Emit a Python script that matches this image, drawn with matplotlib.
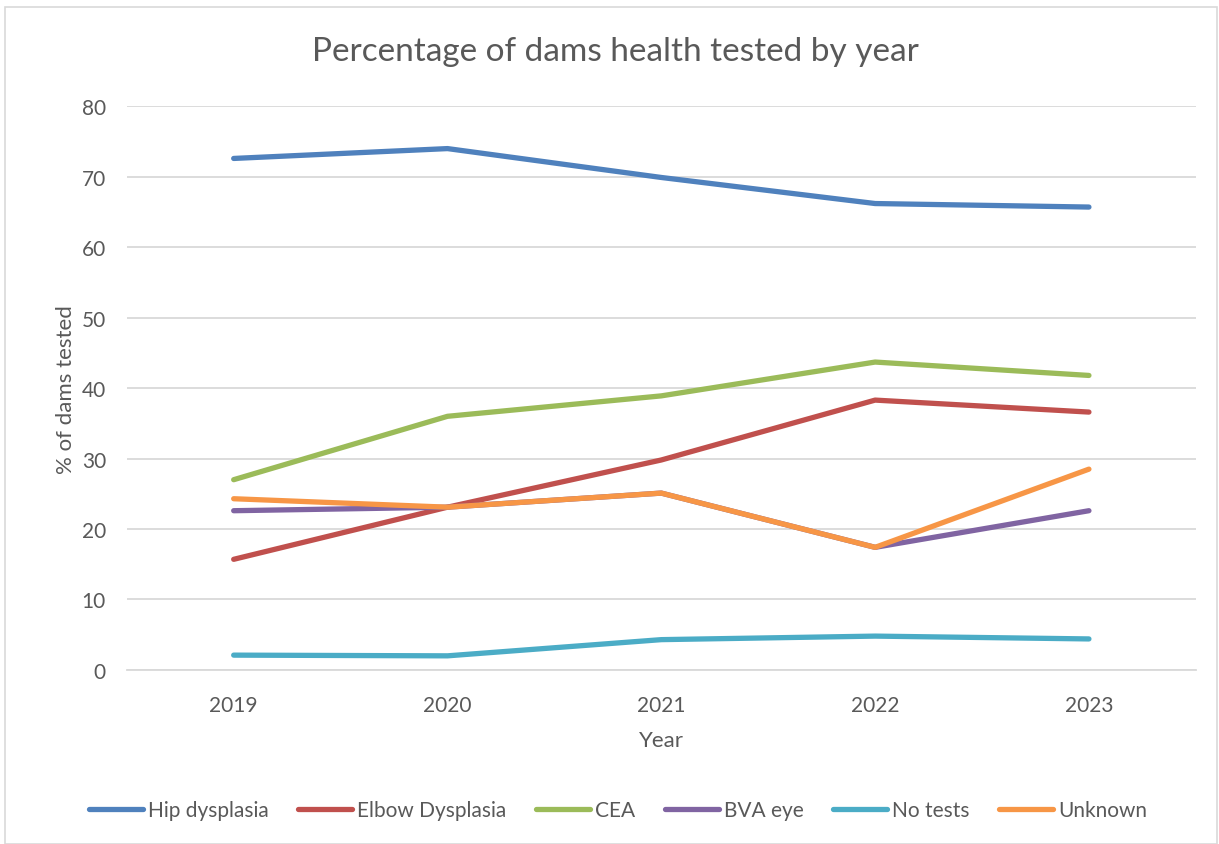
import matplotlib.pyplot as plt
from matplotlib.patches import Rectangle

plt.rcParams['font.family'] = ['Lato', 'DejaVu Sans']

years = ['2019', '2020', '2021', '2022', '2023']
hip = [72.6, 74.0, 69.9, 66.2, 65.7]
elbow = [15.7, 23.1, 29.8, 38.3, 36.6]
cea = [27.0, 36.0, 38.9, 43.7, 41.8]
bva = [22.6, 23.1, 25.1, 17.4, 22.6]
no_tests = [2.1, 2.0, 4.3, 4.8, 4.4]
unknown = [24.3, 23.1, 25.1, 17.4, 28.5]

series = [
    ('Hip dysplasia', hip, '#4F81BD'),
    ('Elbow Dysplasia', elbow, '#C0504D'),
    ('CEA', cea, '#9BBB59'),
    ('BVA eye', bva, '#8064A2'),
    ('No tests', no_tests, '#4BACC6'),
    ('Unknown', unknown, '#F79646'),
]

fig = plt.figure(figsize=(12.19, 8.45), dpi=100)
ax = fig.add_axes([0.104, 0.206, 0.877, 0.667])

x = range(len(years))
for name, vals, col in series:
    ax.plot(x, vals, color=col, lw=3.8, solid_capstyle='round', label=name)

ax.set_xlim(-0.5, len(years) - 0.5)
ax.set_ylim(0, 80)
ax.set_yticks(range(0, 81, 10))
ax.set_xticks(list(x))
ax.set_xticklabels(years)
ax.grid(axis='y', color='#d9d9d9', lw=1.3)
ax.set_axisbelow(True)
for s in ['top', 'right', 'left']:
    ax.spines[s].set_visible(False)
ax.spines['bottom'].set_color('#d9d9d9')
ax.spines['bottom'].set_linewidth(1.3)
ax.tick_params(length=0, labelsize=15, colors='#595959')
ax.tick_params(axis='x', pad=18)
ax.tick_params(axis='y', pad=15)

fig.text(0.505, 0.938, 'Percentage of dams health tested by year', fontsize=24,
         color='#595959', ha='center', va='center')
ax.set_xlabel('Year', fontsize=16, color='#595959', labelpad=11)
ax.set_ylabel('% of dams tested', fontsize=16, color='#595959', labelpad=4)

fig.legend(loc='center', bbox_to_anchor=(0.507, 0.04), ncol=6, frameon=False,
           fontsize=15, labelcolor='#595959', handlelength=2.6,
           handletextpad=0.25, columnspacing=1.4)

fig.patches.append(Rectangle((0.004, 0.0), 0.994, 0.99, transform=fig.transFigure,
                             fill=False, edgecolor='#d9d9d9', lw=1.2))

fig.savefig('out.png', dpi=100)
